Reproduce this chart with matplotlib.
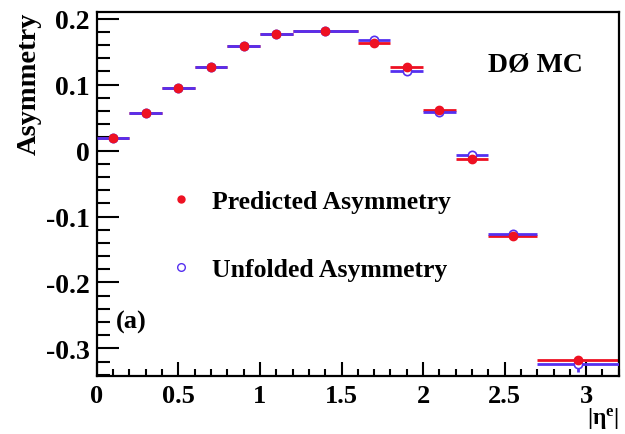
import numpy as np
import matplotlib
matplotlib.use("Agg")
import matplotlib.pyplot as plt
from matplotlib.lines import Line2D
from matplotlib.ticker import MultipleLocator

plt.rcParams['font.family'] = ['Liberation Serif', 'DejaVu Serif']
plt.rcParams['font.weight'] = 'bold'
plt.rcParams['mathtext.fontset'] = 'custom'
plt.rcParams['mathtext.rm'] = 'Liberation Serif:bold'
plt.rcParams['mathtext.it'] = 'Liberation Serif:bold'
plt.rcParams['mathtext.bf'] = 'Liberation Serif:bold'

# bin centres and half widths in |eta^e|
eta_centers = [0.1, 0.3, 0.5, 0.7, 0.9, 1.1, 1.4, 1.7, 1.9, 2.1, 2.3, 2.55, 2.95]
eta_halfwidths = [0.1, 0.1, 0.1, 0.1, 0.1, 0.1, 0.2, 0.1, 0.1, 0.1, 0.1, 0.15, 0.25]

# asymmetry values
predicted = [0.019, 0.057, 0.095, 0.127, 0.158, 0.176, 0.181, 0.163, 0.126, 0.062, -0.013, -0.130, -0.318]
predicted_err = [0.002] * 13
unfolded = [0.019, 0.057, 0.095, 0.127, 0.158, 0.176, 0.181, 0.167, 0.121, 0.058, -0.006, -0.126, -0.324]
unfolded_err = [0.003, 0.003, 0.003, 0.003, 0.003, 0.003, 0.003, 0.003, 0.004, 0.004, 0.004, 0.005, 0.012]

red = '#ee1122'
blue = '#5530f0'

fig = plt.figure(figsize=(6.25, 4.35), dpi=100)
ax = fig.add_axes([0.155, 0.133, 0.835, 0.837])

# lines first, markers on top
ax.errorbar(eta_centers, predicted, xerr=eta_halfwidths, yerr=predicted_err,
            fmt='none', ecolor=red, elinewidth=2.0, capsize=0, zorder=2)
ax.errorbar(eta_centers, unfolded, xerr=eta_halfwidths, yerr=unfolded_err,
            fmt='none', ecolor=blue, elinewidth=2.0, capsize=0, zorder=3)
ax.plot(eta_centers, unfolded, 'o', ms=6, mfc='white', mec=blue, mew=1.2, zorder=4)
ax.plot(eta_centers, predicted, 'o', ms=6, mfc=red, mec=red, zorder=5)

ax.set_xlim(0, 3.2)
ax.set_ylim(-0.342, 0.21)

ax.xaxis.set_major_locator(MultipleLocator(0.5))
ax.xaxis.set_minor_locator(MultipleLocator(0.1))
ax.yaxis.set_major_locator(MultipleLocator(0.1))
ax.yaxis.set_minor_locator(MultipleLocator(0.02))
ax.set_xticks([0, 0.5, 1, 1.5, 2, 2.5, 3])
ax.set_xticklabels(['0', '0.5', '1', '1.5', '2', '2.5', '3'])
ax.set_yticks([-0.3, -0.2, -0.1, 0, 0.1, 0.2])
ax.set_yticklabels(['-0.3', '-0.2', '-0.1', '0', '0.1', '0.2'])

ax.tick_params(axis='both', which='both', direction='in', top=False, right=False,
               width=1.5)
ax.tick_params(axis='y', which='major', length=16, pad=5, labelsize=20)
ax.tick_params(axis='y', which='minor', length=9)
ax.tick_params(axis='x', which='major', length=10, pad=6, labelsize=19)
ax.tick_params(axis='x', which='minor', length=5)
for sp in ax.spines.values():
    sp.set_linewidth(1.6)

ax.set_ylabel('Asymmetry', fontsize=20.5, fontweight='bold', loc='top')
ax.yaxis.set_label_coords(-0.105, 1.0)
ax.set_xlabel(r'$\mathrm{|\eta^{e}|}$', fontsize=17, loc='right', labelpad=-2)

ax.text(0.84, 0.857, 'DØ MC', transform=ax.transAxes, fontsize=20,
        fontweight='bold', ha='center', va='center')
ax.text(0.065, 0.151, '(a)', transform=ax.transAxes, fontsize=19,
        fontweight='bold', ha='center', va='center')

handles = [
    Line2D([], [], ls='none', marker='o', ms=5, mfc=red, mec=red),
    Line2D([], [], ls='none', marker='o', ms=5.5, mfc='white', mec=blue, mew=1.0),
]
ax.legend(handles, ['Predicted Asymmetry', 'Unfolded Asymmetry'],
          loc='upper left', bbox_to_anchor=(0.137, 0.51), frameon=False,
          prop={'size': 18.5, 'weight': 'bold'}, handlelength=1.0,
          handletextpad=0.69, labelspacing=1.75, borderpad=0, borderaxespad=0)

fig.savefig('out.png', dpi=100, facecolor='white')
